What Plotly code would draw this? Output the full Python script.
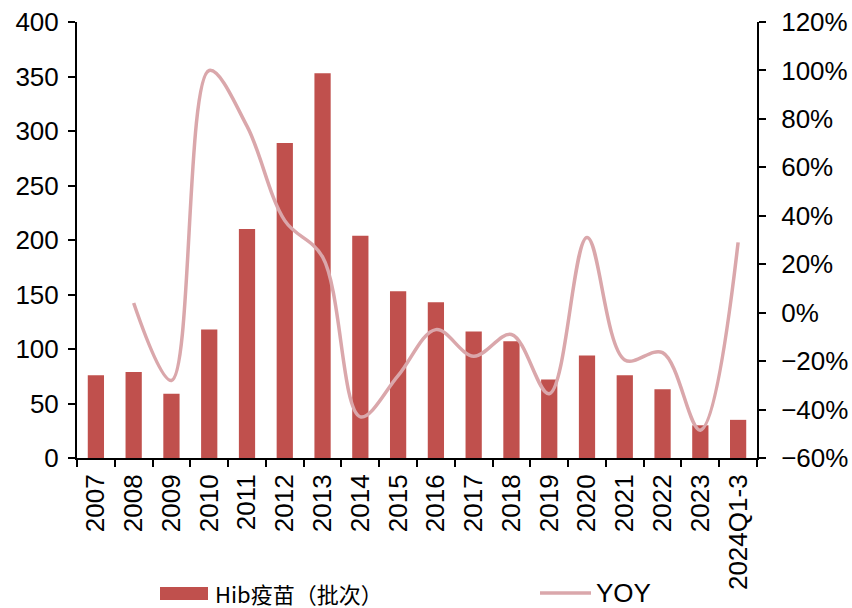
import plotly.graph_objects as go

# Hib vaccine batch releases per year and year-over-year change
years = ["2007", "2008", "2009", "2010", "2011", "2012", "2013", "2014", "2015",
         "2016", "2017", "2018", "2019", "2020", "2021", "2022", "2023", "2024Q1-3"]
batches = [76, 79, 59, 118, 210, 289, 353, 204, 153, 143, 116, 107, 72, 94, 76, 63, 30, 35]
yoy_pct = [None, 4, -28, 100, 77, 38, 23, -43, -26, -7, -18, -9, -33.5, 31, -19.5, -16.5, -48.5, 29]

bar_name = "Hib疫苗（批次）"
line_name = "YOY"
BAR_COLOR = "#C0504D"
LINE_COLOR = "#DAA7AB"
FONT = "Liberation Sans, Arial, sans-serif"
CJK_FONT = "Noto Sans CJK SC, Liberation Sans, sans-serif"

fig = go.Figure()
fig.add_trace(go.Bar(
    x=years, y=batches, name=bar_name,
    marker=dict(color=BAR_COLOR, line=dict(width=0)),
    yaxis="y", showlegend=False,
))
fig.add_trace(go.Scatter(
    x=years, y=yoy_pct, name=line_name, mode="lines",
    line=dict(color=LINE_COLOR, width=3.5, shape="spline", smoothing=1.0),
    yaxis="y2", showlegend=False, connectgaps=False,
))

axis_common = dict(
    showline=True, linecolor="black", linewidth=2,
    ticks="outside", ticklen=7, tickwidth=2, tickcolor="black",
    showgrid=False, zeroline=False, automargin=False,
    tickfont=dict(family=FONT, size=26, color="black"),
)

fig.update_layout(
    width=852, height=608,
    margin=dict(l=77, r=95, t=22, b=150),
    paper_bgcolor="white", plot_bgcolor="white",
    bargap=0.57,
    xaxis=dict(
        type="category", tickangle=-90, tickson="boundaries",
        ticklabelstandoff=4, **axis_common,
    ),
    yaxis=dict(range=[0, 400], dtick=50, ticklabelstandoff=4, **axis_common),
    yaxis2=dict(
        range=[-60, 120], dtick=20, ticksuffix="%",
        overlaying="y", side="right", ticklabelstandoff=10, **axis_common,
    ),
    showlegend=False,
)

# Legend drawn below the plot: bar swatch + label, line swatch + label
LEG_Y = 593
fig.add_shape(type="rect", xref="paper", yref="paper",
              x0=(160 - 77) / 680, x1=(208 - 77) / 680,
              y0=(458 - (LEG_Y + 7)) / 436, y1=(458 - (LEG_Y - 6)) / 436,
              fillcolor=BAR_COLOR, line=dict(width=0))
fig.add_annotation(xref="paper", yref="paper",
                   x=(213 - 77) / 680, y=(458 - LEG_Y) / 436,
                   xanchor="left", yanchor="middle", showarrow=False,
                   text=bar_name,
                   font=dict(family=CJK_FONT, size=22, color="black"))
fig.add_shape(type="line", xref="paper", yref="paper",
              x0=(540 - 77) / 680, x1=(591 - 77) / 680,
              y0=(458 - LEG_Y) / 436, y1=(458 - LEG_Y) / 436,
              line=dict(color=LINE_COLOR, width=3.5))
fig.add_annotation(xref="paper", yref="paper",
                   x=(594 - 77) / 680, y=(458 - LEG_Y) / 436,
                   xanchor="left", yanchor="middle", showarrow=False,
                   text=line_name,
                   font=dict(family=FONT, size=26, color="black"))

fig.write_html("out.html")
